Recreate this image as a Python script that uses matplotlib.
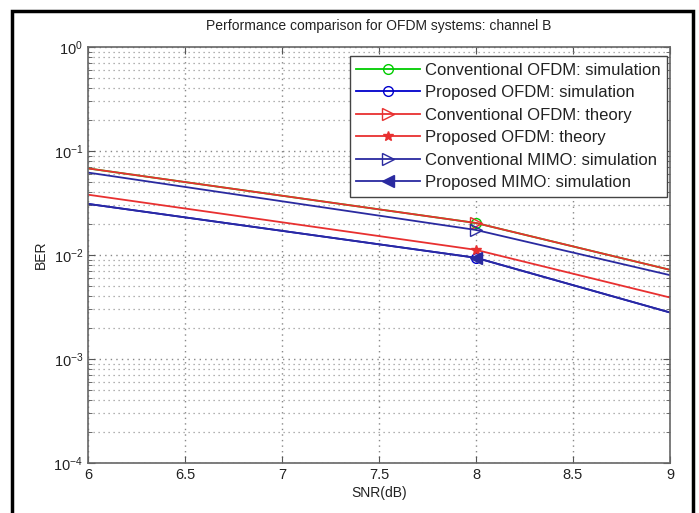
import numpy as np
import matplotlib
matplotlib.use("Agg")
import matplotlib.pyplot as plt
from matplotlib.patches import Rectangle

plt.rcParams['font.family'] = ['Liberation Sans', 'DejaVu Sans']

# SNR points (markers only visible at 8 dB)
snr = [6, 8, 9]

conv_ofdm_sim = [0.068, 0.0203, 0.0072]
prop_ofdm_sim = [0.031, 0.0094, 0.0028]
conv_ofdm_theory = [0.068, 0.0203, 0.0072]
prop_ofdm_theory = [0.038, 0.0112, 0.0039]
conv_mimo_sim = [0.062, 0.0174, 0.0064]
prop_mimo_sim = [0.031, 0.0094, 0.0028]

labels = ['Conventional OFDM: simulation', 'Proposed OFDM: simulation',
          'Conventional OFDM: theory', 'Proposed OFDM: theory',
          'Conventional MIMO: simulation', 'Proposed MIMO: simulation']

fig = plt.figure(figsize=(6.99, 5.13), dpi=100)
ax = fig.add_axes([0.1259, 0.0975, 0.8326, 0.8109])

txt = '#222222'
ax.semilogy(snr, conv_ofdm_sim, '-o', color='#00cc00', mfc='none', ms=7, lw=1.3,
            markevery=[1], label=labels[0])
ax.semilogy(snr, prop_ofdm_sim, '-o', color='#0000cc', mfc='none', ms=7, lw=1.3,
            markevery=[1], label=labels[1])
ax.semilogy(snr, conv_ofdm_theory, '->', color='#e83030', mfc='none', ms=8, lw=1.3,
            markevery=[1], label=labels[2])
ax.semilogy(snr, prop_ofdm_theory, '-*', color='#e83030', ms=7, lw=1.3,
            markevery=[1], label=labels[3])
ax.semilogy(snr, conv_mimo_sim, '->', color='#2a2aa0', mfc='none', ms=8, lw=1.3,
            markevery=[1], label=labels[4])
ax.semilogy(snr, prop_mimo_sim, '-<', color='#2a2aa0', ms=8, lw=1.3,
            markevery=[1], label=labels[5])

ax.set_xlim(6, 9)
ax.set_ylim(1e-4, 1)
ax.set_xticks([6, 6.5, 7, 7.5, 8, 8.5, 9])
ax.set_xticklabels(['6', '6.5', '7', '7.5', '8', '8.5', '9'])
ax.set_yticks([1e-4, 1e-3, 1e-2, 1e-1, 1])
ax.yaxis.set_minor_locator(matplotlib.ticker.LogLocator(base=10, subs=np.arange(2, 10)))
ax.yaxis.set_minor_formatter(matplotlib.ticker.NullFormatter())

ax.grid(True, which='major', linestyle=(0, (1, 3)), color='#888888', lw=1.0)
ax.grid(True, which='minor', axis='y', linestyle=(0, (1, 3)), color='#999999', lw=0.9)
ax.tick_params(which='both', direction='in', top=True, right=True, colors='#555555',
               labelcolor=txt, labelsize=10.5)
ax.tick_params(which='major', length=5)
ax.tick_params(which='minor', length=3)
for s in ax.spines.values():
    s.set_color('#666666')
    s.set_linewidth(1.2)

ax.set_xlabel('SNR(dB)', fontsize=10, color=txt, labelpad=3)
ax.set_ylabel('BER', fontsize=10, color=txt, labelpad=4)
ax.set_title('Performance comparison for OFDM systems: channel B', fontsize=10,
             color=txt, pad=12)

leg = ax.legend(loc='upper right', bbox_to_anchor=(0.995, 0.978), borderaxespad=0,
                fontsize=12, handlelength=3.8, labelspacing=0.45, borderpad=0.4,
                handletextpad=0.3, fancybox=False, framealpha=1, edgecolor='#444444')
for t in leg.get_texts():
    t.set_color(txt)
leg.get_frame().set_linewidth(1.0)

# outer black frame around the figure
fig.patches.append(Rectangle((12 / 699, -0.02), (693 - 12) / 699, 1 - 11 / 513 + 0.02,
                             transform=fig.transFigure, fill=False, edgecolor='black',
                             linewidth=2.5))

fig.savefig('out.png', dpi=100)
